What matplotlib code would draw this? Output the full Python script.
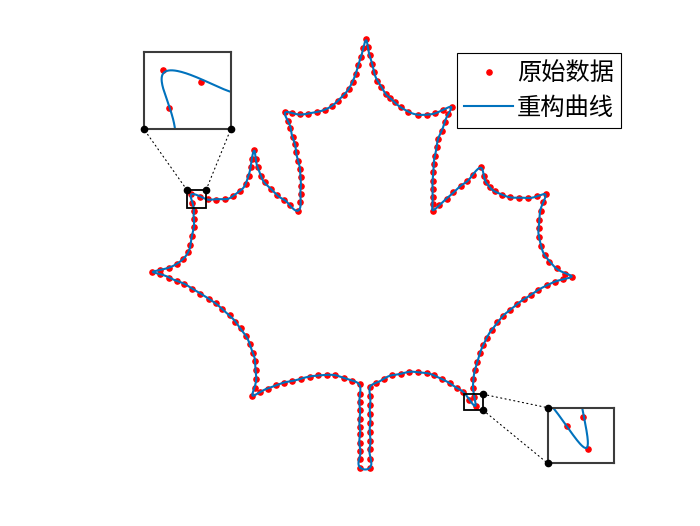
import numpy as np
import matplotlib
matplotlib.use("Agg")
import matplotlib.pyplot as plt
from matplotlib.patches import Rectangle, ConnectionPatch

plt.rcParams["font.family"] = ["Noto Sans CJK SC", "DejaVu Sans"]

# 原始数据: leaf outline samples (image-style coords, y grows downward)
x_pts = [
    360, 360, 360, 360, 360, 360, 360, 360, 360, 360, 360,
    352.7, 344.3, 335.7, 327, 318.3, 310, 301, 292.3, 284.3, 276, 268.3, 260, 252.7,
    255, 256.3, 256.3, 255.3, 253.3, 250.3, 246, 241, 235.7,
    230, 222.7, 216, 209, 200.7, 193, 185, 177.7, 169.3, 161, 152.7,
    161, 169.3, 177.3, 183.3, 188.7, 191, 192.3, 194.3, 194.3, 194.3, 193, 191.5,
    200.1, 208.3, 216.7, 225.3, 233.3, 240, 246, 249, 251, 252.3, 254.7,
    256, 258.3, 261, 265, 271, 277.7, 284.5, 290.5, 298.3,
    300.7, 301, 301, 301, 300.3, 298.3, 296.7, 295, 293, 290.7, 288.3, 285,
    292.3, 300.3, 308.3, 317, 325, 332.7, 338.3, 344.3, 349, 353, 356, 358.5, 361, 363.5, 366.3,
    368, 370, 372.3, 374.3, 377.7, 381.7, 386, 390, 395, 400.7, 408.3, 417.7, 426.7, 435, 443.3, 451.7,
    448.3, 445, 441.7, 438.3, 436.7, 435, 434, 433.3, 432.7, 432.7, 432.7, 432.7, 432.7,
    439.3, 446.7, 453.3, 460.7, 466.7, 473.3, 480.7,
    484, 486, 490, 495, 501.7, 510, 519.3, 528.3, 537.3, 546,
    542.7, 540.7, 539, 538.7, 539, 541, 545, 549.3, 556.7, 565, 572.3,
    563.3, 555, 546.7, 538.3, 530.7, 524, 517.3, 510, 503.3, 497.5, 491.7, 486.7, 483.3, 480,
    477.3, 475, 473.3, 473.3, 474.3, 475.6,
    469.5, 463.3, 456.7, 450, 442.3, 434.3, 426.7, 418.3, 409.3, 401, 392.3, 384.3, 376.7, 370.3,
    370.3, 370.3, 370.3, 370.3, 370.3, 370.3, 370.3, 370.3, 370.3,
]
y_pts = [
    467, 458.3, 450, 441.7, 433.3, 426, 417.7, 409.3, 401, 392.7, 383.3,
    380, 376.7, 374.3, 374, 374.3, 375.7, 377.7, 380, 381.7, 384.3, 387.7, 391, 395.3,
    386.7, 377.7, 369, 360, 351.7, 343.3, 335, 327.3, 321,
    314.3, 308.3, 302.3, 297.7, 292.7, 287.7, 283.3, 280, 276.7, 273.3, 271,
    269.3, 266.7, 263.3, 258.3, 251.7, 244, 235.7, 226.7, 218.3, 210, 202.3, 193.2,
    196.1, 198.3, 199, 198.3, 195.7, 190.7, 183.3, 175, 166.7, 158.3, 149.3,
    158.3, 166.7, 175, 181.7, 188.3, 194.3, 199.5, 204.5, 210.7,
    201.7, 193.3, 185, 176.7, 168.3, 160, 151.7, 143.3, 136, 127.7, 120, 111.7,
    112.7, 113.7, 113.3, 111.3, 109.3, 105, 100, 94.3, 88, 81, 73, 65, 57, 48, 39,
    47, 55, 63.3, 71.7, 80, 86.7, 93.3, 97.5, 101.7, 106.7, 111, 114, 114.3, 112.7, 109.3, 106,
    113.3, 121.7, 130, 138.3, 146.7, 155, 163.3, 171.7, 180, 188.3, 196.7, 203.5, 210,
    204.3, 198.3, 191.7, 185.7, 180.7, 174, 166.7,
    175, 181.7, 186.7, 190.7, 194, 196.3, 197.3, 197, 195.7, 193.3,
    201.7, 210, 219, 227.7, 236.7, 245.7, 254.3, 261, 267.3, 272.7, 275.7,
    278.3, 281, 284.3, 289.3, 294, 298.3, 303.3, 309, 315, 321.3, 329.3, 336.7, 344.3, 352.3,
    361, 369.3, 378.3, 386.7, 395.9, 405.3,
    398.6, 391, 386.7, 382.3, 378.3, 374.3, 372.3, 371, 371, 372.7, 374.3, 377.7, 381.7, 386,
    395, 404, 413, 421.7, 431, 440, 448, 458, 467,
]

# zoom windows: [x_min, x_max, y_min, y_max]
zoom_a = [187.3, 206.7, 189.0, 207.3]
zoom_b = [464.0, 483.3, 393.3, 409.3]

labels = ["原始数据", "重构曲线"]
blue = "#0072BD"

# 重构曲线: truncated Fourier series of the closed outline
z = np.array(x_pts) + 1j * np.array(y_pts)
n = len(z)
coef = np.fft.fft(z) / n
freq = np.fft.fftfreq(n, 1.0 / n)
keep = np.abs(freq) <= int(0.42 * n)
t = np.linspace(0, 1, 6000)
curve = np.exp(2j * np.pi * np.outer(t, freq[keep])) @ coef[keep]
cx, cy = curve.real, curve.imag

fig = plt.figure(figsize=(7.0, 5.26), dpi=100)
ax = fig.add_axes([0.13, 0.11, 0.775, 0.815])
ax.plot(x_pts, y_pts, ".", color="red", ms=7.5, label=labels[0], clip_on=False)
ax.plot(cx, cy, "-", color=blue, lw=1.5, label=labels[1], clip_on=False)
ax.set_ylim(max(y_pts), min(y_pts))
ax.set_xlim(min(x_pts), max(x_pts))
ax.set_aspect("equal", adjustable="datalim")
ax.axis("off")

leg = ax.legend(loc="upper right", bbox_to_anchor=(621 / 700, 1 - 53 / 526),
                bbox_transform=fig.transFigure, borderaxespad=0, fontsize=17.5,
                fancybox=False, edgecolor="black", framealpha=1, handlelength=2.0,
                handletextpad=0.15, labelspacing=0.35, borderpad=0.3, markerscale=1.0)
leg.get_frame().set_linewidth(0.8)

insets = [
    (zoom_a, [144 / 700, 1 - 129.3 / 526, 86.7 / 700, 77.6 / 526]),
    (zoom_b, [547.7 / 700, 1 - 463.3 / 526, 66.6 / 700, 55.6 / 526]),
]
ins_axes = []
for zw, pos in insets:
    ia = fig.add_axes(pos)
    ia.plot(x_pts, y_pts, ".", color="red", ms=7.5)
    ia.plot(cx, cy, "-", color=blue, lw=1.5)
    ia.set_xlim(zw[0], zw[1])
    ia.set_ylim(zw[3], zw[2])
    ia.set_xticks([])
    ia.set_yticks([])
    for s in ia.spines.values():
        s.set_color("#3c3c3c")
        s.set_linewidth(1.5)
    ax.add_patch(Rectangle((zw[0], zw[2]), zw[1] - zw[0], zw[3] - zw[2],
                           fill=False, ec="black", lw=1.3, zorder=5))
    ins_axes.append(ia)

# connectors: main-rectangle corner -> inset corner (axes fraction)
links = [
    (ins_axes[0], (zoom_a[0], zoom_a[2]), (0, 0)),
    (ins_axes[0], (zoom_a[1], zoom_a[2]), (1, 0)),
    (ins_axes[1], (zoom_b[1], zoom_b[2]), (0, 1)),
    (ins_axes[1], (zoom_b[1], zoom_b[3]), (0, 0)),
]
for ia, pa, pb in links:
    cp = ConnectionPatch(xyA=pa, coordsA=ax.transData, xyB=pb, coordsB=ia.transAxes,
                         ls=(0, (1, 3)), color="black", lw=0.8)
    fig.add_artist(cp)
    ax.plot(*pa, "o", color="black", ms=4.5, clip_on=False, zorder=6)
    ia.plot(*pb, "o", color="black", ms=4.5, clip_on=False, transform=ia.transAxes, zorder=6)

fig.savefig("out.png", dpi=100)
